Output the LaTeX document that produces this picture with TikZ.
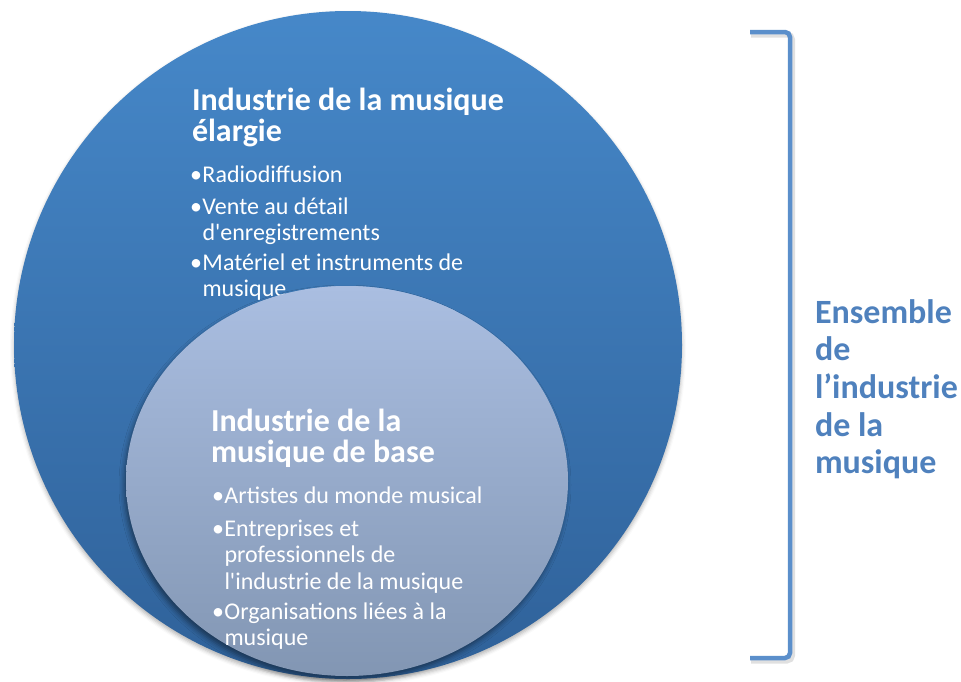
\documentclass[tikz,border=0pt]{standalone}
\usepackage{fontspec}
\setmainfont{Carlito}[Ligatures=TeXOff]
\usetikzlibrary{shadows.blur}

\definecolor{outerTop}{HTML}{4688C9}
\definecolor{outerBot}{HTML}{2F6199}
\definecolor{innerTop}{HTML}{AABEE1}
\definecolor{innerBot}{HTML}{8296B3}
\definecolor{accent}{HTML}{4F81BD}
\definecolor{bracketblue}{HTML}{5B8FCB}

% fonts for headings and bullet lines
\newcommand{\headfont}{\fontsize{32}{31}\selectfont\bfseries}
\newcommand{\listfont}{\fontsize{24}{26.5}\selectfont}
\newcommand{\sidefont}{\fontsize{34}{37.7}\selectfont\bfseries}
% one bullet entry with a hanging indent
\newcommand{\bulletline}[1]{\makebox[12.5pt][l]{\textbullet}\parbox[t]{400pt}{#1}}

\begin{document}
\begin{tikzpicture}[x=1pt,y=1pt,
  txt/.style={inner sep=0pt, outer sep=0pt, anchor=base west, text=white},
  head/.style={txt, font=\headfont},
  entry/.style={txt, font=\listfont},
  side/.style={txt, font=\sidefont, text=accent},
  bracketline/.style={draw=bracketblue, line width=4.5pt, rounded corners=5pt},
  bracketshade/.style={draw=black, draw opacity=0.12, line width=6pt, rounded corners=5pt}]

\useasboundingbox (0,0) rectangle (961,-681);

% outer circle: the wider music industry
\path[top color=outerTop, bottom color=outerBot,
  blur shadow={shadow xshift=0pt, shadow yshift=-3pt, shadow blur radius=4pt, shadow opacity=30}]
  (348,-345) circle (334);

% inner ellipse: the core music industry
\path[top color=innerTop, bottom color=innerBot,
  blur shadow={shadow xshift=-2pt, shadow yshift=-4pt, shadow blur radius=5pt, shadow opacity=45}]
  (347,-481) ellipse (221 and 195);

% outer circle labels
\node[head] (wideTitle) at (192,-110) {\parbox[t]{400pt}{Industrie de la musique\\élargie}};
\node[entry] (wideA) at (190,-182) {\bulletline{Radiodiffusion}};
\node[entry] (wideB) at (190,-214) {\bulletline{Vente au détail\\d'enregistrements}};
\node[entry] (wideC) at (190,-270) {\bulletline{Matériel et instruments de\\musique}};

% redraw the top of the inner ellipse over the last line
\begin{scope}
  \clip (100,-284) rectangle (600,-310);
  \path[top color=innerTop, bottom color=innerBot] (347,-481) ellipse (221 and 195);
\end{scope}

% inner ellipse labels
\node[head] (coreTitle) at (211,-431) {\parbox[t]{400pt}{Industrie de la\\musique de base}};
\node[entry] (coreA) at (212,-503) {\bulletline{Artistes du monde musical}};
\node[entry] (coreB) at (212,-536) {\bulletline{Entreprises et\\professionnels de\\l'industrie de la musique}};
\node[entry] (coreC) at (212,-619) {\bulletline{Organisations liées à la\\musique}};

% bracket spanning the whole diagram
\coordinate (brTopEnd) at (750,-32);
\coordinate (brTopCorner) at (790,-32);
\coordinate (brBotCorner) at (790,-658);
\coordinate (brBotEnd) at (750,-658);
\coordinate (shTopEnd) at (751,-34.5);
\coordinate (shTopCorner) at (792,-34.5);
\coordinate (shBotCorner) at (792,-660.5);
\coordinate (shBotEnd) at (751,-660.5);
\draw[bracketshade] (shTopEnd) -- (shTopCorner) -- (shBotCorner) -- (shBotEnd);
\draw[bracketline] (brTopEnd) -- (brTopCorner) -- (brBotCorner) -- (brBotEnd);

\node[side] (whole) at (815,-323) {\parbox[t]{200pt}{Ensemble\\de\\l’industrie\\de la\\musique}};

\end{tikzpicture}
\end{document}
